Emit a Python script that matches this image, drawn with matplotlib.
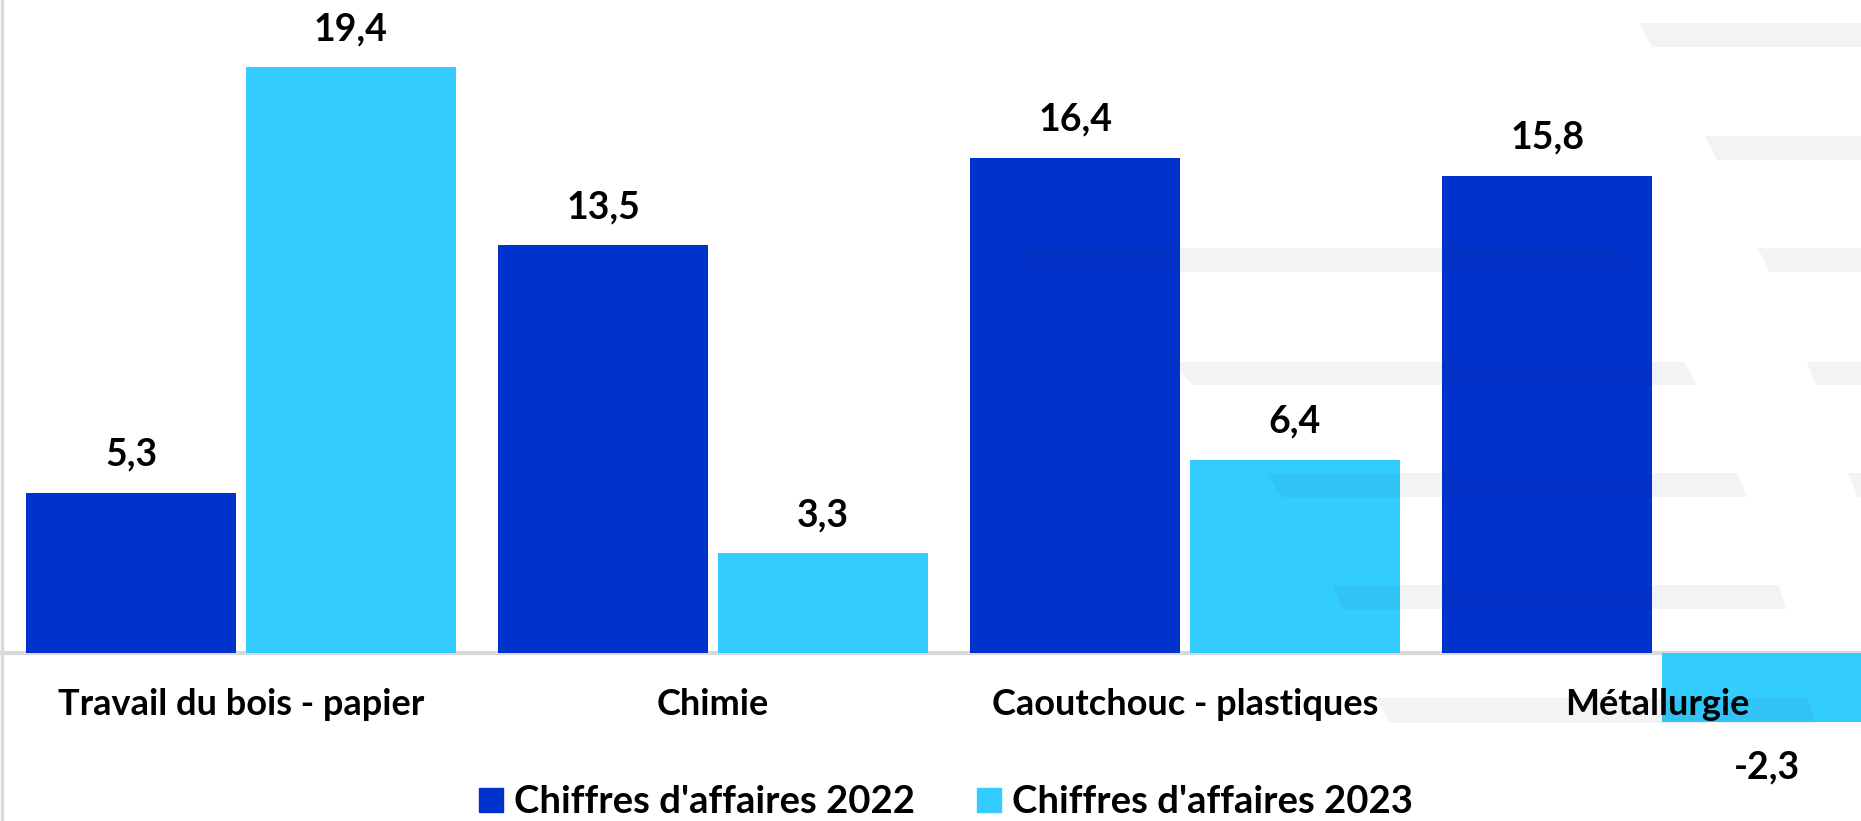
import matplotlib
matplotlib.use('Agg')
import matplotlib.pyplot as plt
from matplotlib.lines import Line2D
from matplotlib.patches import Polygon
import numpy as np

plt.rcParams['font.family'] = ['Lato', 'DejaVu Sans']

categories = ['Travail du bois - papier', 'Chimie', 'Caoutchouc - plastiques', 'Métallurgie']
ca_2022 = [5.3, 13.5, 16.4, 15.8]
ca_2023 = [19.4, 3.3, 6.4, -2.3]
series_labels = ["Chiffres d'affaires 2022", "Chiffres d'affaires 2023"]

DARK = '#0033CC'
LIGHT = '#33CCFF'
W, H = 1861, 821

fig = plt.figure(figsize=(W / 100, H / 100), dpi=100)
ax = fig.add_axes([0, 0, 1, 1])
ax.set_xlim(-0.5106, 3.432)
ax.set_ylim(-5.57, 21.62)
ax.axis('off')

x = np.arange(len(categories))
bw = 0.445
off = 0.2325
b1 = ax.bar(x - off, ca_2022, bw, color=DARK, zorder=2)
b2 = ax.bar(x + off, ca_2023, bw, color=LIGHT, zorder=2)
ax.axhline(0, color='#d9d9d9', lw=3, zorder=1)

# value labels
for bars, vals in [(b1, ca_2022), (b2, ca_2023)]:
    for bar, v in zip(bars, vals):
        cx = bar.get_x() + bar.get_width() / 2
        txt = f'{v:.1f}'.replace('.', ',')
        if v >= 0:
            ax.annotate(txt, (cx, v), xytext=(0, 15), textcoords='offset points',
                        ha='center', va='bottom', fontsize=27, fontweight='bold', zorder=5)
        else:
            ax.annotate(txt, (cx, v), xytext=(0, -20), textcoords='offset points',
                        ha='center', va='top', fontsize=27, fontweight='bold', zorder=5)

# category labels
for xi, cat in zip(x, categories):
    ax.text(xi, -1.7, cat, ha='center', va='center', fontsize=26, fontweight='bold', zorder=5)

# left border line
fig.add_artist(Line2D([1.5 / W, 1.5 / W], [0, 1], color='#d9d9d9', lw=2.5))

# light background stripes (slide decoration)
stripes = [
    (23, 47, 1639, 1652, 1900, 1900),
    (136, 160, 1705, 1717, 1900, 1900),
    (248, 272, 1013, 1030, 1625, 1634),
    (248, 272, 1758, 1769, 1900, 1900),
    (362, 385, 1172, 1192, 1684, 1697),
    (362, 385, 1807, 1816, 1900, 1900),
    (473, 497, 1266, 1281, 1737, 1747),
    (473, 497, 1848, 1858, 1900, 1900),
    (585, 609, 1332, 1343, 1779, 1786),
    (698, 723, 1377, 1389, 1808, 1815),
]
for yt, yb, xlt, xlb, xrt, xrb in stripes:
    pts = [(xlt / W, 1 - yt / H), (xrt / W, 1 - yt / H),
           (xrb / W, 1 - yb / H), (xlb / W, 1 - yb / H)]
    fig.add_artist(Polygon(pts, closed=True, transform=fig.transFigure,
                           facecolor='#1a2a5a', alpha=0.055, edgecolor='none', zorder=3))

handles = [Line2D([], [], marker='s', linestyle='none', markersize=17, color=c)
           for c in (DARK, LIGHT)]
fig.legend(handles, series_labels, loc='center', bbox_to_anchor=(0.5085, 1 - 802 / H),
           ncol=2, frameon=False, prop={'size': 27.5, 'weight': 'bold'},
           handlelength=0.6, handletextpad=0.3, columnspacing=1.65,
           borderpad=0, borderaxespad=0)

plt.savefig('out.png', dpi=100)
plt.close()
